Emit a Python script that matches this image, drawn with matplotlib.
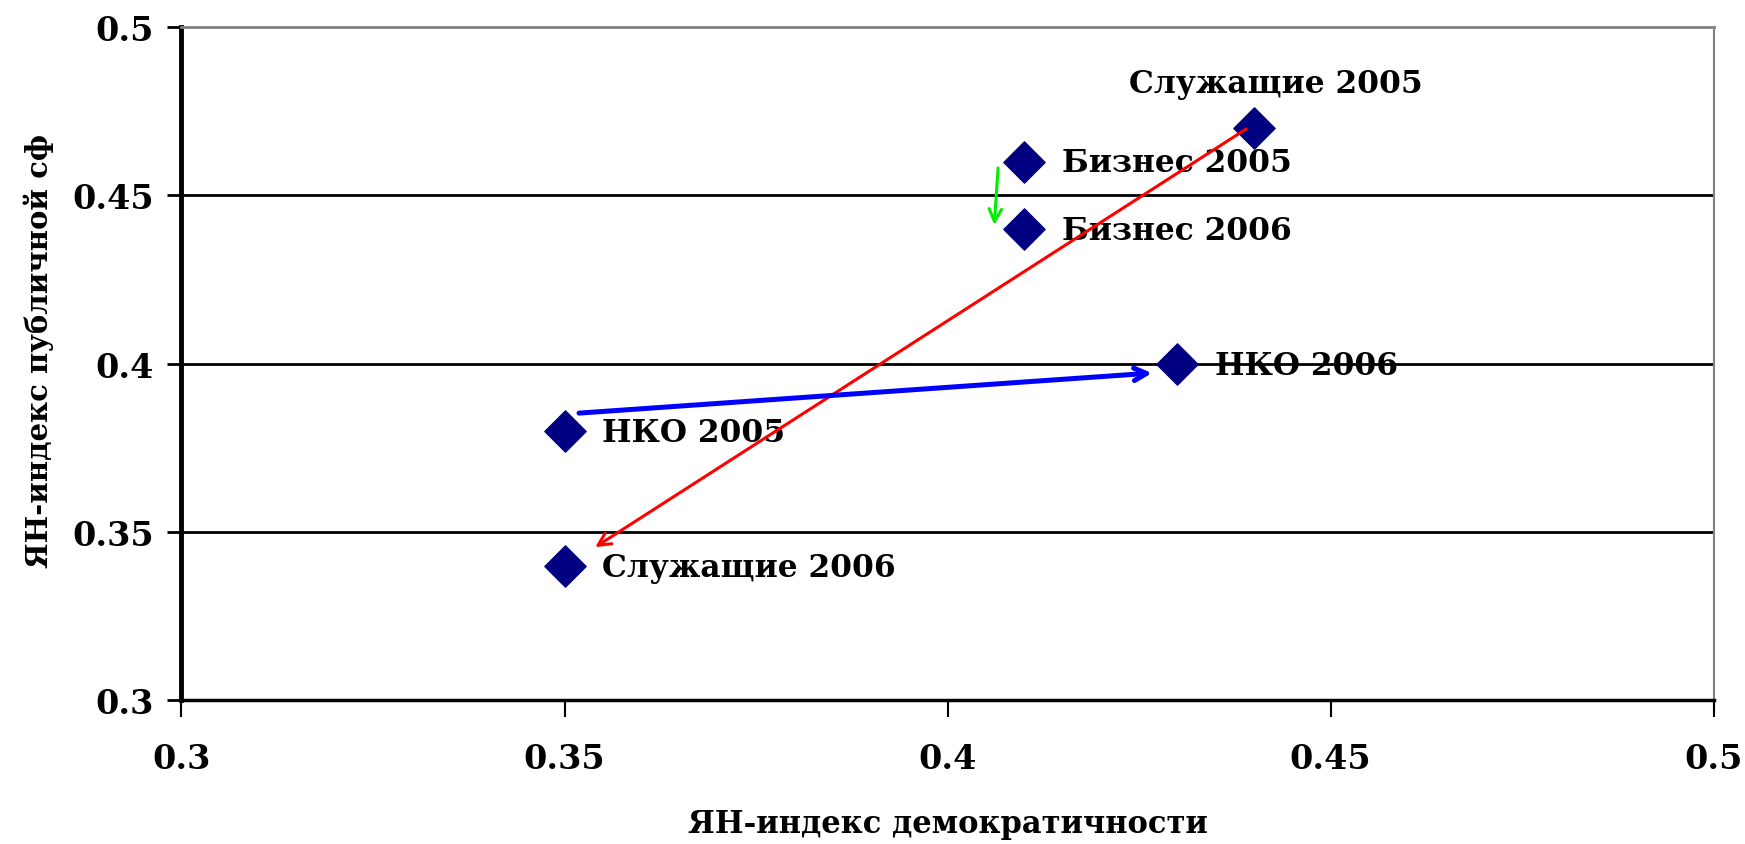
import matplotlib.pyplot as plt

# points: democracy index (x) vs public sphere index (y)
names = ['Служащие 2005', 'Бизнес 2005', 'Бизнес 2006', 'НКО 2006', 'НКО 2005', 'Служащие 2006']
dem_index = [0.44, 0.41, 0.41, 0.43, 0.35, 0.35]
pub_index = [0.47, 0.46, 0.44, 0.40, 0.38, 0.34]

# hand drawn arrows (start, end) in data units, colour
arrows = [
    ((0.439, 0.4697), (0.354, 0.3455), 'red'),
    ((0.3519, 0.3853), (0.4267, 0.3972), 'blue'),
    ((0.4066, 0.4581), (0.4061, 0.4412), '#00ee00'),
]

ticks = [0.3, 0.35, 0.4, 0.45, 0.5]
tick_labels = ['0.3', '0.35', '0.4', '0.45', '0.5']

plt.rcParams['font.family'] = ['DejaVu Serif']
plt.rcParams['font.weight'] = 'bold'

fig = plt.figure(figsize=(17.45, 8.45), dpi=100)
ax = fig.add_axes([0.104, 0.170, 0.878, 0.797])

ax.scatter(dem_index, pub_index, marker='D', s=21 ** 2, color='#000080', zorder=3)

# label positions: Служащие 2005 sits above, the rest to the right
for name, x, y in zip(names, dem_index, pub_index):
    if name == 'Служащие 2005':
        ax.annotate(name, (x, y), xytext=(16, 32), textcoords='offset points',
                    ha='center', va='center', fontsize=22.5, fontweight='bold', zorder=4)
    else:
        ax.annotate(name, (x, y), xytext=(27, -1), textcoords='offset points',
                    ha='left', va='center', fontsize=22.5, fontweight='bold', zorder=4)

for (x0, y0), (x1, y1), c in arrows:
    lw = 3.6 if c == 'blue' else 2.2
    ax.annotate('', xy=(x1, y1), xytext=(x0, y0),
                arrowprops=dict(arrowstyle='->,head_length=0.9,head_width=0.45',
                                color=c, lw=lw, shrinkA=0, shrinkB=0),
                zorder=5)

ax.set_xlim(0.3, 0.5)
ax.set_ylim(0.3, 0.5)
ax.set_xticks(ticks)
ax.set_xticklabels(tick_labels)
ax.set_yticks(ticks)
ax.set_yticklabels(tick_labels)

for y in [0.35, 0.4, 0.45]:
    ax.axhline(y, color='black', lw=2, zorder=1)

ax.spines['top'].set_color('#808080')
ax.spines['right'].set_color('#808080')
ax.spines['top'].set_linewidth(2)
ax.spines['right'].set_linewidth(1.5)
ax.spines['left'].set_linewidth(3.5)
ax.spines['bottom'].set_linewidth(2.5)

ax.tick_params(axis='y', direction='out', length=10, width=2, pad=10, labelsize=24)
ax.tick_params(axis='x', direction='out', length=12, width=1.5, pad=18, labelsize=24)

ax.set_xlabel('ЯН-индекс демократичности', fontsize=22, fontweight='bold', labelpad=24)
ax.set_ylabel('ЯН-индекс публичной сф', fontsize=21, fontweight='bold')
ax.yaxis.set_label_coords(-0.083, 0.52)

fig.savefig('out.png', dpi=100)
